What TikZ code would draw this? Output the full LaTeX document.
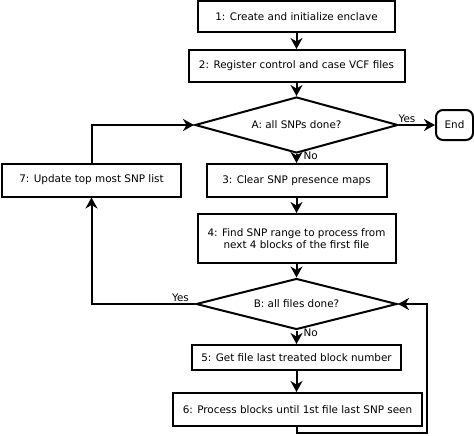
\documentclass[tikz,border=0pt]{standalone}
\usepackage{fontspec}
\setmainfont{DejaVu Sans}
\usetikzlibrary{shapes.geometric,arrows.meta,positioning}
\begin{document}
\begin{tikzpicture}[x=1pt,y=-1pt,
  font=\fontsize{10.4pt}{12.5pt}\selectfont,
  stepbox/.style={draw,line width=2pt,fill=white,inner sep=1pt,align=center},
  decision/.style={draw,line width=2pt,fill=white,shape=diamond,aspect=3.6,inner sep=0pt},
  flow/.style={line width=2pt,line join=miter,-{Stealth[length=11pt,width=12pt,inset=3.5pt]}},
  lbl/.style={font=\fontsize{10.4pt}{12pt}\selectfont,inner sep=1pt}]
\useasboundingbox (0,0) rectangle (474,436);
\node[stepbox,minimum width=197pt,minimum height=31pt] (b1) at (296.5,16.5) {1: Create and initialize enclave};
\node[stepbox,minimum width=216pt,minimum height=32pt] (b2) at (296.5,66) {2: Register control and case VCF files};
\node[decision,minimum width=203pt,minimum height=56pt] (A) at (296.5,125) {A: all SNPs done?};
\node[stepbox,rounded corners=7pt,minimum width=37pt,minimum height=30pt] (end) at (454.5,125) {End};
\node[stepbox,minimum width=180pt,minimum height=33pt] (b3) at (296.5,180.5) {3: Clear SNP presence maps};
\node[stepbox,minimum width=179pt,minimum height=33pt] (b7) at (91.5,180) {7: Update top most SNP list};
\node[stepbox,minimum width=198pt,minimum height=49pt] (b4) at (296.5,238.5) {4: Find SNP range to process from\\next 4 blocks of the first file};
\node[decision,minimum width=201pt,minimum height=51pt] (B) at (296.5,304) {B: all files done?};
\node[stepbox,minimum width=209pt,minimum height=25pt] (b5) at (296.5,357.5) {5: Get file last treated block number};
\node[stepbox,minimum width=249pt,minimum height=33pt] (b6) at (297.5,409.5) {6: Process blocks until 1st file last SNP seen};
\coordinate (c1) at (427,433);
\draw[flow] (b1.south) -- (b2.north);
\draw[flow] (b2.south) -- (A.north);
\draw[flow] (A.east) -- node[lbl,pos=0.22,above] {Yes} (end.west);
\draw[flow] (A.south) -- node[lbl,pos=0.2,right=5pt] {No} (b3.north);
\draw[flow] (b3.south) -- (b4.north);
\draw[flow] (b4.south) -- (B.north);
\draw[flow] (B.south) -- node[lbl,pos=0.2,right=5pt] {No} (b5.north);
\draw[flow] (b5.south) -- (b6.north -| b5.south);
\draw[flow] (B.west) -| node[lbl,pos=0.07,above] {Yes} (b7.south);
\draw[flow] (b7.north) |- (A.west);
\draw[flow] (b6.south -| B.south) |- (c1) |- (B.east);
\end{tikzpicture}
\end{document}
